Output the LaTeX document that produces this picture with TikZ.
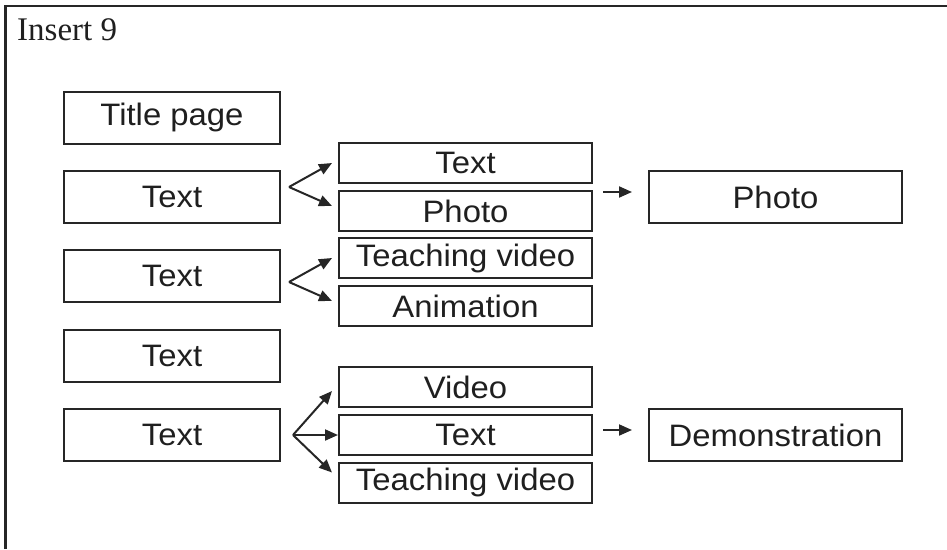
\documentclass[tikz,border=0pt]{standalone}
\usepackage{fontspec}
\setmainfont{Liberation Sans}[FakeStretch=1.06]
\newfontfamily\insertfont{Liberation Serif}
\usetikzlibrary{arrows.meta,calc}
\tikzset{
  box/.style={draw=black!85, line width=2pt, inner sep=0pt, minimum height=52pt,
    minimum width=216pt, text=black!88, font=\fontsize{31}{31}\selectfont},
  subbox/.style={box, minimum width=253pt, minimum height=40pt},
  outbox/.style={box, minimum width=253pt},
  arr/.style={line width=2pt, draw=black!85, -{Triangle[length=13pt,width=11pt]}},
}

\begin{document}
\begin{tikzpicture}[x=1pt,y=-1pt]
			%%%%% FRAME %%%%%
			\useasboundingbox (0,0) rectangle (947,549);
			\draw[line width=2.6pt, color=black!85] (5.3,549) -- (5.3,6) -- (947,6);
			\node[anchor=base west, inner sep=0pt, text=black!88, font=\insertfont\fontsize{33}{33}\selectfont] (ins) at (17,40) {Insert 9};
			
			%%%%% LEFT COLUMN %%%%%
			\node[box] (title) at (172,117.5) {Title page};
			\node[box] (txta) at (172,197) {Text};
			\node[box] (txtb) at (172,276) {Text};
			\node[box] (txtc) at (172,355.5) {Text};
			\node[box] (txtd) at (172,434.5) {Text};
			
			%%%%% MIDDLE COLUMN %%%%%
			\node[subbox] (mtext) at (465.5,163) {Text};
			\node[subbox] (mphoto) at (465.5,211) {Photo};
			\node[subbox] (mteach) at (465.5,258) {Teaching video};
			\node[subbox] (manim) at (465.5,306) {Animation};
			\node[subbox] (mvideo) at (465.5,387) {Video};
			\node[subbox] (mtxt) at (465.5,435) {Text};
			\node[subbox] (mteachb) at (465.5,482.5) {Teaching video};
			
			%%%%% RIGHT COLUMN %%%%%
			\node[outbox] (rphoto) at (775.5,197) {Photo};
			\node[outbox] (rdemo) at (775.5,435) {Demonstration};
			
			%%%%% FORKS %%%%%
			\coordinate (gapa) at ($(mtext.south)!.5!(mphoto.north)$);
			\coordinate (gapb) at ($(mteach.south)!.5!(manim.north)$);
			\coordinate (fa) at ([xshift=8pt]txta.east |- gapa);
			\coordinate (fb) at ([xshift=8pt]txtb.east |- gapb);
			\coordinate (fc) at ([xshift=12pt]txtd.east |- mtxt.west);
			
			\draw[arr] (fa) -- ([xshift=-6pt]mtext.west);
			\draw[arr] (fa) -- ([xshift=-6pt,yshift=5pt]mphoto.west);
			\draw[arr] (fb) -- ([xshift=-6pt]mteach.west);
			\draw[arr] (fb) -- ([xshift=-6pt,yshift=5pt]manim.west);
			\draw[arr] (fc) -- ([xshift=-6pt,yshift=-4pt]mvideo.west);
			\draw[arr] (fc) -- (mtxt.west);
			\draw[arr] (fc) -- ([xshift=-6pt,yshift=10pt]mteachb.west);
			
			%%%%% OUTPUTS %%%%%
			\draw[arr, shorten <=10pt, shorten >=16pt] ([yshift=5pt]mphoto.east |- rphoto.west) -- ([yshift=5pt]rphoto.west);
			\draw[arr, shorten <=10pt, shorten >=16pt] ([yshift=5pt]mtxt.east) -- ([yshift=5pt]rdemo.west);
\end{tikzpicture}
\end{document}
